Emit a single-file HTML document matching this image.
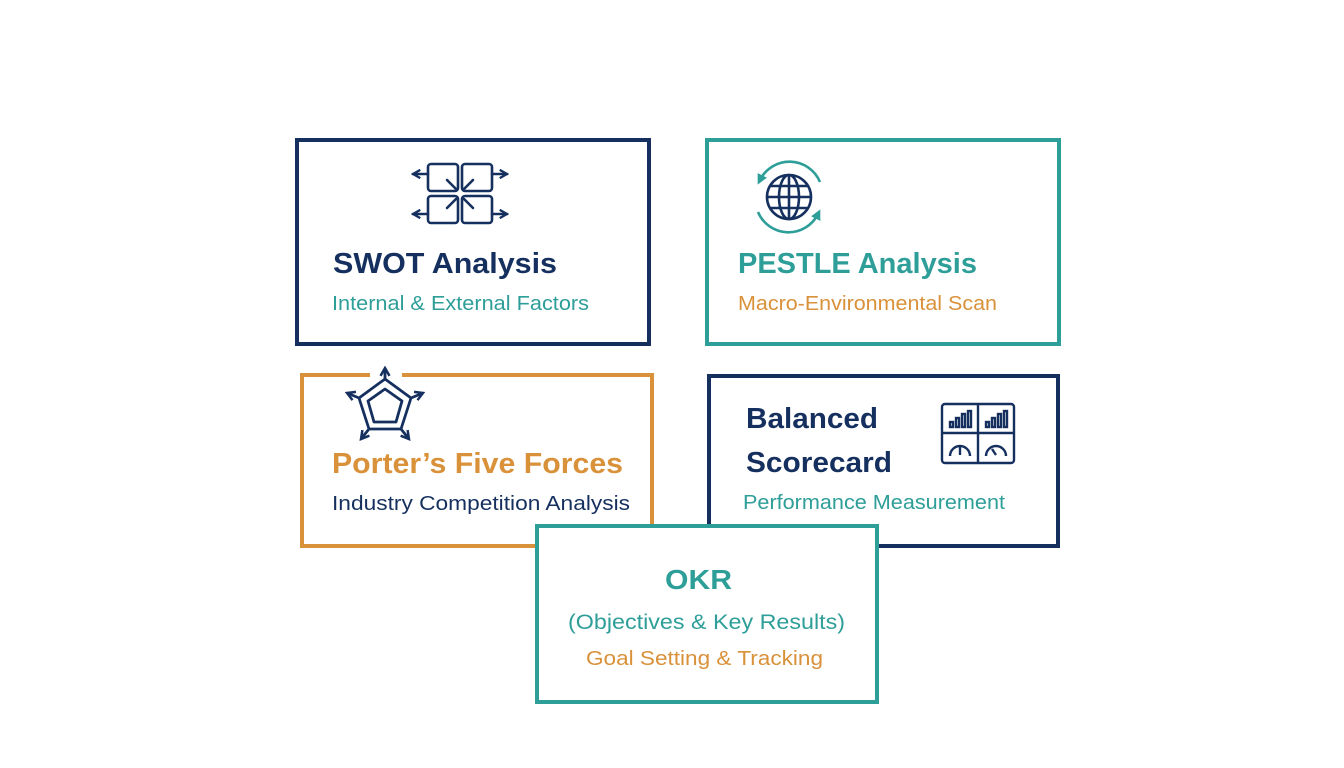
<!DOCTYPE html>
<html><head><meta charset="utf-8"><style>
html,body{margin:0;padding:0;background:#fff;}
svg{display:block;}
text{font-family:"Liberation Sans",sans-serif;}
</style></head><body>
<svg width="1344" height="768" viewBox="0 0 1344 768" xmlns="http://www.w3.org/2000/svg">
<defs>
<marker id="ah" viewBox="0 0 10 10" refX="8" refY="5" markerWidth="4" markerHeight="4" orient="auto"><path d="M1,1 L8,5 L1,9" fill="none" stroke="#15305f" stroke-width="2.2"/></marker>
<marker id="at" viewBox="0 0 10 10" refX="5" refY="5" markerWidth="4" markerHeight="4" orient="auto"><path d="M0,0 L10,5 L0,10 z" fill="#2e9e98"/></marker>
</defs>
<rect width="1344" height="768" fill="#fff"/>
<!-- SWOT -->
<rect x="297" y="140" width="352" height="204" fill="#fff" stroke="#15305f" stroke-width="4"/>
<g stroke="#15305f" stroke-width="2.6" fill="none" stroke-linecap="round">
<rect x="428" y="164" width="30" height="27" rx="3"/>
<rect x="462" y="164" width="30" height="27" rx="3"/>
<rect x="428" y="196" width="30" height="27" rx="3"/>
<rect x="462" y="196" width="30" height="27" rx="3"/>
<line x1="428" y1="174" x2="413" y2="174" marker-end="url(#ah)"/>
<line x1="492" y1="174" x2="507" y2="174" marker-end="url(#ah)"/>
<line x1="428" y1="214" x2="413" y2="214" marker-end="url(#ah)"/>
<line x1="492" y1="214" x2="507" y2="214" marker-end="url(#ah)"/>
<line x1="447" y1="180" x2="456" y2="189"/><line x1="473" y1="180" x2="464" y2="189"/>
<line x1="447" y1="208" x2="456" y2="199"/><line x1="473" y1="208" x2="464" y2="199"/>
</g>
<text x="333" y="273" font-size="29" font-weight="bold" fill="#15305f" textLength="224" lengthAdjust="spacingAndGlyphs">SWOT Analysis</text>
<text x="332" y="310" font-size="20" fill="#2e9e98" textLength="257" lengthAdjust="spacingAndGlyphs">Internal &amp; External Factors</text>
<!-- PESTLE -->
<rect x="707" y="140" width="352" height="204" fill="#fff" stroke="#2e9e98" stroke-width="4"/>
<g fill="none" stroke="#2e9e98" stroke-width="2.6">
<path d="M820,182 A33,33 0 0 0 760,180" marker-end="url(#at)"/>
<path d="M758,212 A33,33 0 0 0 818,214" marker-end="url(#at)"/>
</g>
<g fill="none" stroke="#15305f" stroke-width="2.6">
<circle cx="789" cy="197" r="22"/>
<ellipse cx="789" cy="197" rx="10" ry="22"/>
<line x1="789" y1="175" x2="789" y2="219"/>
<line x1="767" y1="197" x2="811" y2="197"/>
<line x1="771" y1="186" x2="807" y2="186"/>
<line x1="771" y1="208" x2="807" y2="208"/>
</g>
<text x="738" y="273" font-size="29" font-weight="bold" fill="#2e9e98" textLength="239" lengthAdjust="spacingAndGlyphs">PESTLE Analysis</text>
<text x="738" y="310" font-size="20" fill="#d9913a" textLength="259" lengthAdjust="spacingAndGlyphs">Macro-Environmental Scan</text>
<!-- Porter -->
<rect x="302" y="375" width="350" height="171" fill="#fff" stroke="#d9913a" stroke-width="4"/>
<rect x="370" y="370" width="32" height="10" fill="#fff"/>
<g fill="none" stroke="#15305f" stroke-width="2.8" stroke-linejoin="round">
<polygon points="385,379 411,398 401,429 369,429 359,398"/>
<polygon points="385,389 402,401 396,422 374,422 368,401"/>
<line x1="385" y1="379" x2="385" y2="368" marker-end="url(#ah)"/>
<line x1="411" y1="398" x2="423" y2="393" marker-end="url(#ah)"/>
<line x1="359" y1="398" x2="347" y2="393" marker-end="url(#ah)"/>
<line x1="401" y1="429" x2="409" y2="439" marker-end="url(#ah)"/>
<line x1="369" y1="429" x2="361" y2="439" marker-end="url(#ah)"/>
</g>
<text x="332" y="473" font-size="29" font-weight="bold" fill="#d9913a" textLength="291" lengthAdjust="spacingAndGlyphs">Porter’s Five Forces</text>
<text x="332" y="510" font-size="20" fill="#15305f" textLength="298" lengthAdjust="spacingAndGlyphs">Industry Competition Analysis</text>
<!-- Balanced -->
<rect x="709" y="376" width="349" height="170" fill="#fff" stroke="#15305f" stroke-width="4"/>
<g fill="none" stroke="#15305f" stroke-width="2.4">
<rect x="942" y="404" width="72" height="59" rx="3"/>
<line x1="978" y1="404" x2="978" y2="463"/>
<line x1="942" y1="433" x2="1014" y2="433"/>
<rect x="950" y="422" width="3" height="5"/><rect x="956" y="418" width="3" height="9"/><rect x="962" y="414" width="3" height="13"/><rect x="968" y="411" width="3" height="16"/>
<rect x="986" y="422" width="3" height="5"/><rect x="992" y="418" width="3" height="9"/><rect x="998" y="414" width="3" height="13"/><rect x="1004" y="411" width="3" height="16"/>
<path d="M950,456 A10,10 0 0 1 970,456"/><line x1="960" y1="455" x2="960" y2="447"/>
<path d="M986,456 A10,10 0 0 1 1006,456"/><line x1="996" y1="455" x2="992" y2="449"/>
</g>
<text x="746" y="428" font-size="29" font-weight="bold" fill="#15305f" textLength="132" lengthAdjust="spacingAndGlyphs">Balanced</text>
<text x="746" y="472" font-size="29" font-weight="bold" fill="#15305f" textLength="146" lengthAdjust="spacingAndGlyphs">Scorecard</text>
<text x="743" y="509" font-size="20" fill="#2e9e98" textLength="262" lengthAdjust="spacingAndGlyphs">Performance Measurement</text>
<!-- OKR -->
<rect x="537" y="526" width="340" height="176" fill="#fff" stroke="#2e9e98" stroke-width="4"/>
<text x="665" y="589" font-size="28" font-weight="bold" fill="#2e9e98" textLength="67" lengthAdjust="spacingAndGlyphs">OKR</text>
<text x="568" y="629" font-size="21" fill="#2e9e98" textLength="277" lengthAdjust="spacingAndGlyphs">(Objectives &amp; Key Results)</text>
<text x="586" y="665" font-size="20" fill="#d9913a" textLength="237" lengthAdjust="spacingAndGlyphs">Goal Setting &amp; Tracking</text>
</svg>
</body></html>
